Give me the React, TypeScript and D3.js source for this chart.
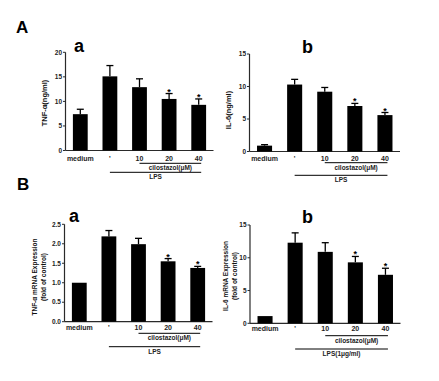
import React from "react";
import * as d3 from "d3";

const groups = ["medium", "'", "10", "20", "40"];
const tnfProtein = [7.4, 15.1, 12.9, 10.5, 9.3];
const tnfProteinSem = [1.0, 2.2, 1.7, 1.1, 1.2];
const il6Protein = [0.9, 10.3, 9.2, 7.0, 5.6];
const il6ProteinSem = [0.15, 0.8, 0.65, 0.4, 0.4];
const tnfMrna = [1.0, 2.19, 1.99, 1.55, 1.38];
const tnfMrnaSem = [0, 0.15, 0.15, 0.07, 0.04];
const il6Mrna = [1.1, 12.3, 10.9, 9.3, 7.4];
const il6MrnaSem = [0, 1.5, 1.4, 0.9, 1.0];
const significant = [false, false, false, true, true];
const ticksTnfProtein = [0, 5, 10, 15, 20];
const ticksIl6Protein = [0, 5, 10, 15];
const ticksTnfMrna = [0, 0.5, 1.0, 1.5, 2.0, 2.5];
const ticksIl6Mrna = [0, 5, 10, 15];

const FONT = "'Liberation Sans', Arial, Helvetica, sans-serif";

type PanelProps = {
  values: number[];
  sems: number[];
  ticks: number[];
  fmt: (v: number) => string;
  yMax: number;
  axisX: number;
  xEnd: number;
  yBottom: number;
  yTop: number;
  title: string[];
  titleX: number;
  titleY: number;
  titleSize: number;
  letter: string;
  letterX: number;
  letterY: number;
  labelY: number;
  cilY: number;
  lpsY: number;
  lpsText: string;
};

function Panel(p: PanelProps) {
  const x = d3
    .scaleBand<string>()
    .domain(groups)
    .range([p.axisX, p.xEnd])
    .paddingInner(0.5)
    .paddingOuter(0.25);
  const y = d3.scaleLinear().domain([0, p.yMax]).range([p.yBottom, p.yTop]);
  const bw = x.bandwidth();
  const cx = (i: number) => (x(groups[i]) as number) + bw / 2;
  const lineEnd = cx(4) + 2.5;
  const axisColor = "#2a2a2a";
  return (
    <g fontFamily={FONT}>
      {/* y axis */}
      <line x1={p.axisX} x2={p.axisX} y1={y(0)} y2={y(p.yMax)} stroke={axisColor} strokeWidth={1.2} />
      {p.ticks.map((t) => (
        <g key={t}>
          <line x1={p.axisX - 2.5} x2={p.axisX} y1={y(t)} y2={y(t)} stroke={axisColor} strokeWidth={1} />
          <text x={p.axisX - 3.5} y={y(t)} dy="0.35em" textAnchor="end" fontSize={6.5} fontWeight="bold" fill="#222">
            {p.fmt(t)}
          </text>
        </g>
      ))}
      {/* x axis */}
      <line x1={p.axisX} x2={p.xEnd} y1={y(0)} y2={y(0)} stroke={axisColor} strokeWidth={1.2} />
      {/* bars */}
      {p.values.map((v, i) => {
        const top = y(v + p.sems[i]);
        return (
          <g key={i}>
            <rect x={x(groups[i])} y={y(v)} width={bw} height={y(0) - y(v)} fill="#000" />
            {p.sems[i] > 0 && (
              <>
                <line x1={cx(i)} x2={cx(i)} y1={y(v)} y2={top} stroke="#000" strokeWidth={1.3} />
                <line x1={cx(i) - 3.5} x2={cx(i) + 3.5} y1={top} y2={top} stroke="#000" strokeWidth={1.3} />
              </>
            )}
            {significant[i] && (
              <text x={cx(i)} y={top + 1} textAnchor="middle" fontSize={9} fontWeight="bold" fill="#000">
                *
              </text>
            )}
          </g>
        );
      })}
      {/* x labels */}
      {groups.map((g, i) => (
        <text key={g} x={cx(i)} y={p.labelY} textAnchor="middle" fontSize={7} fontWeight="bold" fill="#222">
          {g}
        </text>
      ))}
      {/* treatment lines */}
      <line x1={cx(2)} x2={lineEnd} y1={p.cilY} y2={p.cilY} stroke="#000" strokeWidth={1} />
      <text x={(cx(2) + lineEnd) / 2} y={p.cilY + 7} textAnchor="middle" fontSize={6.5} fontWeight="bold" fill="#222">
        cilostazol(μM)
      </text>
      <line x1={cx(1)} x2={lineEnd} y1={p.lpsY} y2={p.lpsY} stroke="#000" strokeWidth={1} />
      <text x={(cx(1) + lineEnd) / 2} y={p.lpsY + 7} textAnchor="middle" fontSize={6.5} fontWeight="bold" fill="#222">
        {p.lpsText}
      </text>
      {/* y title */}
      <g transform={`translate(${p.titleX},${p.titleY}) rotate(-90)`}>
        {p.title.map((t, k) => (
          <text
            key={k}
            x={0}
            y={(k - (p.title.length - 1) / 2) * 9.5}
            textAnchor="middle"
            dominantBaseline="central"
            fontSize={p.titleSize}
            fontWeight="bold"
            fill="#111"
          >
            {t}
          </text>
        ))}
      </g>
      {/* panel letter */}
      <text x={p.letterX} y={p.letterY} fontSize={18} fontWeight="bold" fill="#000">
        {p.letter}
      </text>
    </g>
  );
}

export default function App() {
  const f0 = (v: number) => d3.format("d")(v);
  const f1 = (v: number) => d3.format(".1f")(v);
  return (
    <svg
      width={439}
      height={381}
      style={{ position: "absolute", left: 0, top: 0, background: "#fff" }}
    >
      <rect width={439} height={381} fill="#fff" />
      <text x={16} y={33} fontFamily={FONT} fontSize={17} fontWeight="bold" fill="#000">
        A
      </text>
      <text x={17} y={190} fontFamily={FONT} fontSize={17} fontWeight="bold" fill="#000">
        B
      </text>
      <Panel
        values={tnfProtein}
        sems={tnfProteinSem}
        ticks={ticksTnfProtein}
        fmt={f0}
        yMax={20}
        axisX={65.5}
        xEnd={213.5}
        yBottom={150.5}
        yTop={52.3}
        title={["TNF-α(ng/ml)"]}
        titleX={44.5}
        titleY={103}
        titleSize={7.5}
        letter="a"
        letterX={74}
        letterY={52}
        labelY={160.5}
        cilY={163.3}
        lpsY={172.3}
        lpsText="LPS"
      />
      <Panel
        values={il6Protein}
        sems={il6ProteinSem}
        ticks={ticksIl6Protein}
        fmt={f0}
        yMax={15}
        axisX={249.5}
        xEnd={400}
        yBottom={151.5}
        yTop={54}
        title={["IL-6(ng/ml)"]}
        titleX={228.5}
        titleY={110}
        titleSize={7.5}
        letter="b"
        letterX={302}
        letterY={53}
        labelY={160.5}
        cilY={162.7}
        lpsY={175.3}
        lpsText="LPS"
      />
      <Panel
        values={tnfMrna}
        sems={tnfMrnaSem}
        ticks={ticksTnfMrna}
        fmt={f1}
        yMax={2.5}
        axisX={64.5}
        xEnd={212.5}
        yBottom={321.7}
        yTop={224.3}
        title={["TNF-α mRNA Expression", "(fold of control)"]}
        titleX={39}
        titleY={277}
        titleSize={6.5}
        letter="a"
        letterX={69}
        letterY={222}
        labelY={329.5}
        cilY={333.3}
        lpsY={346.7}
        lpsText="LPS"
      />
      <Panel
        values={il6Mrna}
        sems={il6MrnaSem}
        ticks={ticksIl6Mrna}
        fmt={f0}
        yMax={15}
        axisX={250}
        xEnd={400.5}
        yBottom={323.3}
        yTop={225}
        title={["IL-6 mRNA Expression", "(fold of control)"]}
        titleX={230}
        titleY={276}
        titleSize={6.5}
        letter="b"
        letterX={302}
        letterY={223}
        labelY={330.5}
        cilY={335.7}
        lpsY={349}
        lpsText="LPS(1μg/ml)"
      />
    </svg>
  );
}
